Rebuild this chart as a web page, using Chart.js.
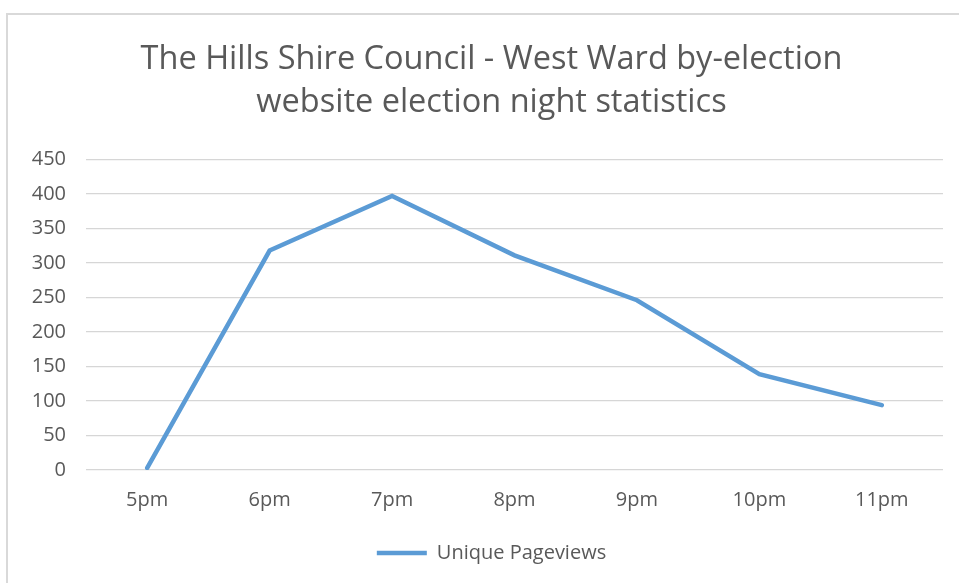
<!DOCTYPE html>
<html>
<head>
<meta charset="utf-8">
<script src="https://cdn.jsdelivr.net/npm/chart.js@4"></script>
<style>
  html, body { margin: 0; padding: 0; background: #fff; overflow: hidden; }
  #frame {
    position: absolute; left: 6px; top: 13px; width: 1000px; height: 620px;
    border-left: 2px solid #d9d9d9; border-top: 2px solid #d9d9d9;
  }
  #wrap { position: absolute; left: 0; top: 0; width: 959px; height: 583px; }
</style>
</head>
<body>
<div id="frame"></div>
<div id="wrap"><canvas id="chart" width="959" height="583"></canvas></div>
<script>
// chart data
const hours = ["5pm", "6pm", "7pm", "8pm", "9pm", "10pm", "11pm"];
const uniquePageviews = [3, 318, 397, 311, 246, 139, 94];
const yTicks = [0, 50, 100, 150, 200, 250, 300, 350, 400, 450];

const textColor = "#595959";
const fontFamily = "'Open Sans', 'Liberation Sans', sans-serif";

const ctx = document.getElementById("chart").getContext("2d");
new Chart(ctx, {
  type: "line",
  data: {
    labels: hours,
    datasets: [
      {
        label: "Unique Pageviews",
        data: uniquePageviews,
        borderColor: "#5b9bd5",
        backgroundColor: "#5b9bd5",
        borderWidth: 4.5,
        pointRadius: 0,
        tension: 0,
        borderCapStyle: "round",
      },
    ],
  },
  options: {
    responsive: false,
    animation: false,
    layout: { padding: { left: 40, right: 16, top: 38, bottom: 10 } },
    plugins: {
      title: {
        display: true,
        text: ["The Hills Shire Council - West Ward by-election", "website election night statistics"],
        color: textColor,
        font: { family: fontFamily, size: 32.5, weight: "normal", lineHeight: 1.33 },
        padding: { top: 0, bottom: 35 },
      },
      legend: {
        position: "bottom",
        labels: {
          color: textColor,
          font: { family: fontFamily, size: 20 },
          usePointStyle: true,
          pointStyle: "line",
          pointStyleWidth: 50,
          padding: 13,
        },
      },
      tooltip: { enabled: false },
    },
    scales: {
      x: {
        offset: true,
        grid: { display: false, drawTicks: false },
        border: { display: false },
        ticks: { color: textColor, font: { family: fontFamily, size: 20 }, padding: 18 },
      },
      y: {
        min: 0,
        max: 450,
        afterBuildTicks: (axis) => { axis.ticks = yTicks.map((v) => ({ value: v })); },
        afterFit: (axis) => {
          axis.width = 46;
          // let the labels spill into the left padding instead of being clipped
          axis._computeLabelArea = () => undefined;
        },
        grid: { color: "#d6d6d6", lineWidth: 1.2, drawTicks: false },
        border: { display: false },
        ticks: { color: textColor, font: { family: fontFamily, size: 20 }, padding: 20 },
      },
    },
  },
});
</script>
</body>
</html>
